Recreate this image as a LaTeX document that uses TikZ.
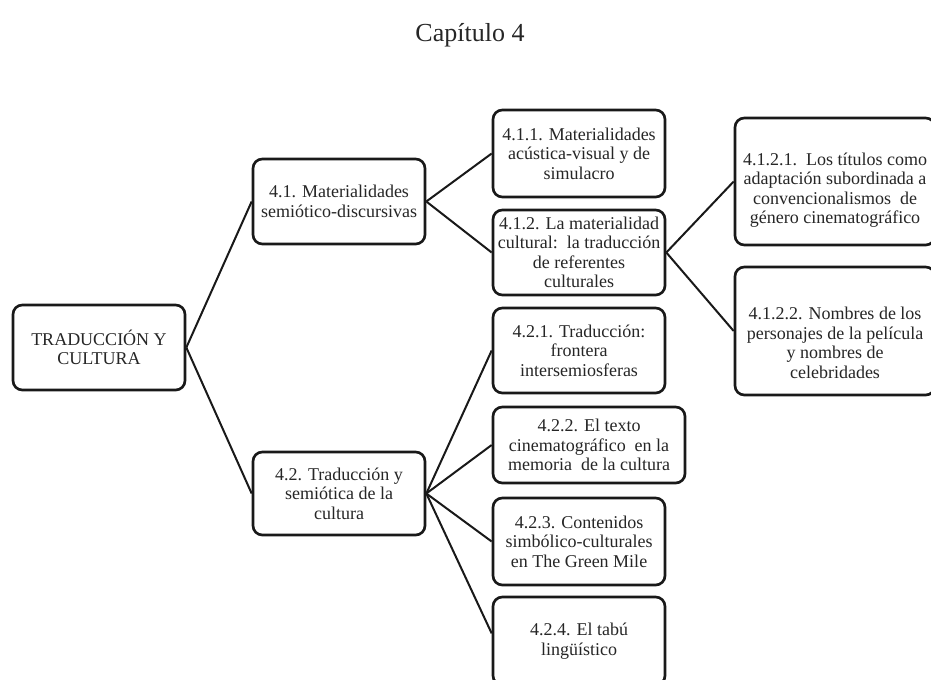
\documentclass[tikz,border=0pt]{standalone}
\usepackage{fontspec}
\setmainfont{Liberation Serif}
\def\pxu{0.75pt}
\begin{document}
\begin{tikzpicture}[
  x=0.75pt, y=-0.75pt,
  box/.style={draw=black!90, line width=2pt, rounded corners=7pt, fill=white,
    align=center, inner sep=0pt, minimum width=172*\pxu,
    font=\fontsize{13.5}{14.6}\selectfont, text=black!85},
  txt/.style={align=center, inner sep=0pt,
    font=\fontsize{13.5}{14.6}\selectfont, text=black!85},
  link/.style={line width=1.5pt, black!90}
]
\useasboundingbox (0,0) rectangle (931,679);
\clip (0,0) rectangle (931,679);

% title
\node[font=\fontsize{19.5}{22}\selectfont, text=black!85] (title) at (470,35) {Capítulo 4};

% root
\node[box, minimum height=85*\pxu] (root) at (99,347.5) {TRADUCCIÓN Y\\CULTURA};

% level 1
\node[box, minimum height=85*\pxu] (n41) at (339,201.5) {4.1. Materialidades\\semiótico-discursivas};
\node[box, minimum height=83*\pxu] (n42) at (339,493.5) {4.2. Traducción y\\semiótica de la\\cultura};

% level 2 under 4.1
\node[box, minimum height=87*\pxu] (n411) at (579,153.5) {4.1.1. Materialidades\\acústica-visual y de\\simulacro};
\node[box, minimum height=85*\pxu] (n412) at (579,252.5) {4.1.2. La materialidad\\cultural:\ \ la traducción\\de referentes\\culturales};

% level 3 under 4.1.2
\node[box, minimum width=200*\pxu, minimum height=127*\pxu,
  label={[txt, yshift=-6.5pt]center:{4.1.2.1.\ \ Los títulos como\\adaptación subordinada a\\convencionalismos\ \ de\\género cinematográfico}}]
  (n4121) at (835,181.5) {};
\node[box, minimum width=200*\pxu, minimum height=128*\pxu,
  label={[txt, yshift=-9pt]center:{4.1.2.2. Nombres de los\\personajes de la película\\y nombres de\\celebridades}}]
  (n4122) at (835,331) {};

% level 2 under 4.2
\node[box, minimum height=85*\pxu] (n421) at (579,350.5) {4.2.1. Traducción:\\frontera\\intersemiosferas};
\node[box, minimum width=192*\pxu, minimum height=76*\pxu] (n422) at (589,445) {4.2.2. El texto\\cinematográfico\ \ en la\\memoria\ \ de la cultura};
\node[box, minimum height=87*\pxu] (n423) at (579,541.5) {4.2.3. Contenidos\\simbólico-culturales\\en The Green Mile};
\node[box, minimum height=88*\pxu] (n424) at (579,641) {4.2.4. El tabú\\lingüístico};

% connectors
\draw[link] (root.east) -- (n41.west);
\draw[link] (root.east) -- (n42.west);
\draw[link] (n41.east) -- (n411.west);
\draw[link] (n41.east) -- (n412.west);
\draw[link] (n412.east) -- (n4121.west);
\draw[link] (n412.east) -- (n4122.west);
\draw[link] (n42.east) -- (n421.west);
\draw[link] (n42.east) -- (n422.west);
\draw[link] (n42.east) -- (n423.west);
\draw[link] (n42.east) -- (n424.175);
\end{tikzpicture}
\end{document}
